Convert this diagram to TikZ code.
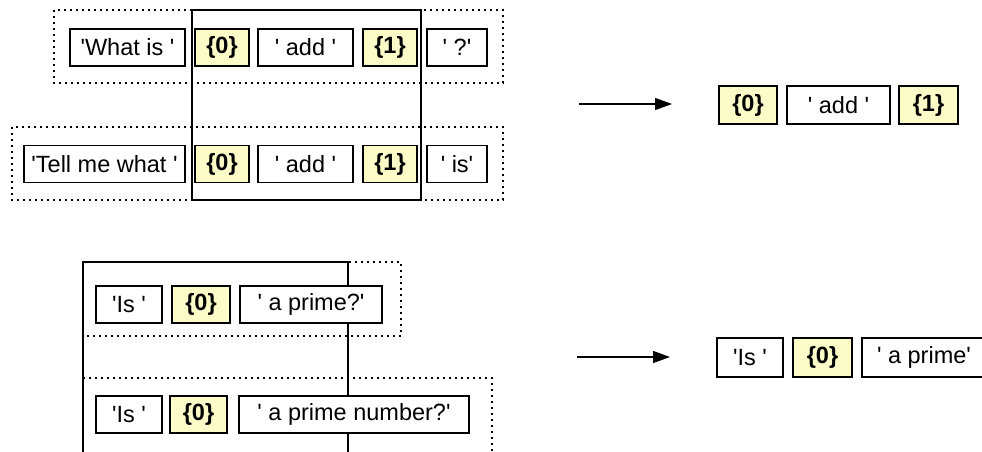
\documentclass[tikz,border=0pt]{standalone}
\usepackage{fontspec}
\setmainfont{Liberation Sans}
\usetikzlibrary{arrows.meta}
\definecolor{hl}{HTML}{FCFCC8}
\newcommand{\sq}{\textquotesingle}
\tikzset{
  tok/.style={draw=black, line width=1.2pt, fill=white, rectangle, inner sep=0pt,
    minimum height=37pt, font=\fontsize{23.5}{27}\selectfont},
  ph/.style={tok, fill=hl},
  grp/.style={draw=black, line width=1.3pt, dash pattern=on 1.8pt off 4.2pt},
  sel/.style={draw=black, line width=1.3pt},
  arr/.style={line width=1.3pt, -{Triangle[length=17pt,width=12pt]}}
}
\begin{document}
\begin{tikzpicture}[x=1pt,y=-1pt]
\useasboundingbox (0,0) rectangle (982,451);
\clip (0,0) rectangle (982,451);
% group boxes
\draw[grp] (54,10) rectangle (503,83);
\draw[grp] (12,127) rectangle (503,200);
\draw[sel] (192,10) rectangle (421,200);
\draw[grp] (83,262) rectangle (401,336);
\draw[grp] (83,378) rectangle (492,480);
\draw[sel] (83,262) rectangle (348,480);
% row 1
\node[tok, minimum width=115pt] (w1) at (127.5,47.5) {\sq What is \sq};
\node[ph, minimum width=54pt] (a0) at (222,47.5) {\textbf{\{0\}}};
\node[tok, minimum width=95pt] (aadd) at (305.5,47.5) {\sq{} add \sq};
\node[ph, minimum width=54pt] (a1) at (390,47.5) {\textbf{\{1\}}};
\node[tok, minimum width=60pt] (aq) at (457,47.5) {\sq{} ?\sq};
% row 2
\node[tok, minimum width=161pt] (t1) at (104.5,164) {\sq Tell me what \sq};
\node[ph, minimum width=54pt] (b0) at (222,164) {\textbf{\{0\}}};
\node[tok, minimum width=95pt] (badd) at (305.5,164) {\sq{} add \sq};
\node[ph, minimum width=54pt] (b1) at (390,164) {\textbf{\{1\}}};
\node[tok, minimum width=60pt] (bis) at (457,164) {\sq{} is\sq};
% result 1
\coordinate (s1) at (579,104);
\coordinate (e1) at (672,104);
\draw[arr] (s1) -- (e1);
\node[ph, minimum width=58pt, minimum height=38pt] (r0) at (748,105) {\textbf{\{0\}}};
\node[tok, minimum width=103pt, minimum height=38pt] (radd) at (838.5,105) {\sq{} add \sq};
\node[ph, minimum width=59pt, minimum height=38pt] (r1) at (928.5,105) {\textbf{\{1\}}};
% row 3
\node[tok, minimum width=66pt] (p1) at (129,304.5) {\sq Is \sq};
\node[ph, minimum width=58pt] (p0) at (201,304.5) {\textbf{\{0\}}};
\node[tok, minimum width=142pt] (pq) at (311,304.5) {\sq{} a prime?\sq};
% row 4
\node[tok, minimum width=66pt] (q1) at (129,414.5) {\sq Is \sq};
\node[ph, minimum width=57pt] (q0) at (198.5,414.5) {\textbf{\{0\}}};
\node[tok, minimum width=230pt] (qn) at (354,414.5) {\sq{} a prime number?\sq};
% result 2
\coordinate (s2) at (577,357);
\coordinate (e2) at (670,357);
\draw[arr] (s2) -- (e2);
\node[tok, minimum width=66pt, minimum height=39pt] (u1) at (750,357.5) {\sq Is \sq};
\node[ph, minimum width=59pt, minimum height=39pt] (u0) at (822.5,357.5) {\textbf{\{0\}}};
\node[tok, minimum width=124pt, minimum height=39pt] (up) at (924,357.5) {\sq{} a prime\sq};
\end{tikzpicture}
\end{document}
